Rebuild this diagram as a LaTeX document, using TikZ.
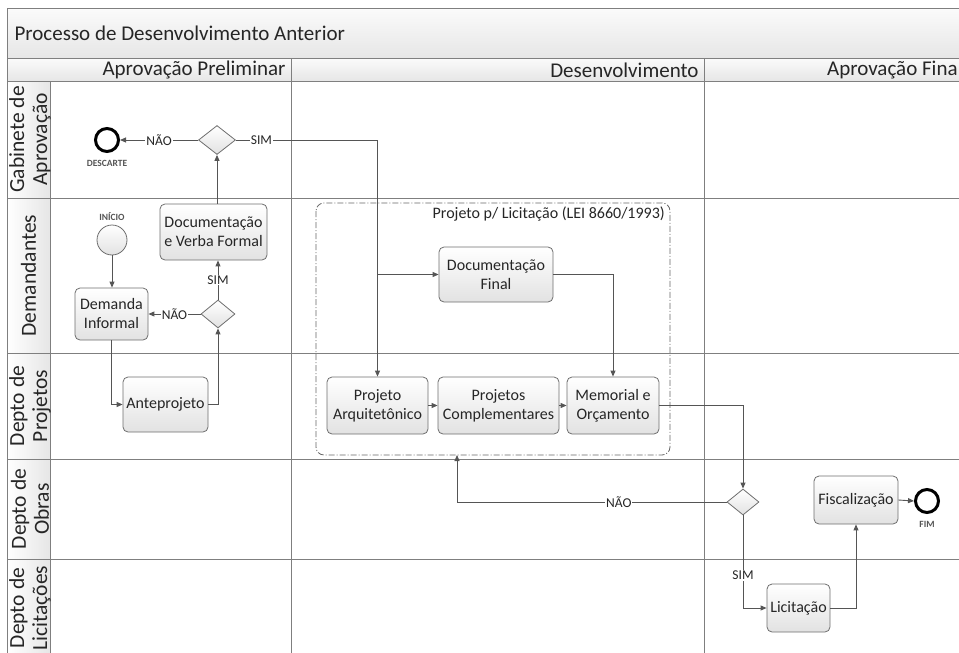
\documentclass[tikz,border=0pt]{standalone}
\usepackage{fontspec}
\setmainfont{Carlito}
\usetikzlibrary{shapes.geometric,arrows.meta,calc,positioning}
\definecolor{laneline}{HTML}{7F7F7F}
\definecolor{flow}{HTML}{555555}
\definecolor{boxline}{HTML}{6E6E6E}
\definecolor{boxfill}{HTML}{E2E2E2}
\definecolor{ink}{HTML}{262626}
\definecolor{bandtop}{HTML}{FBFBFB}
\definecolor{bandbot}{HTML}{E6E6E6}

\begin{document}
\begin{tikzpicture}[x=1pt,y=-1pt,
  task/.style={draw=boxline, line width=0.8pt, rounded corners=5pt,
    top color=white, bottom color=boxfill, text=ink, align=center,
    inner sep=0pt, font=\fontsize{16}{19}\selectfont},
  gate/.style={diamond, draw=boxline, line width=0.8pt, top color=white,
    bottom color=boxfill, inner sep=0pt},
  endev/.style={circle, draw=black, line width=3pt, fill=white, inner sep=0pt,
    minimum size=23pt},
  startev/.style={circle, draw=boxline, line width=0.8pt, top color=white,
    bottom color=boxfill, inner sep=0pt, minimum size=30pt},
  evlabel/.style={font=\fontsize{9.5}{10}\selectfont\bfseries, text=flow},
  flowline/.style={draw=flow, line width=0.9pt},
  arr/.style={flowline, -{Triangle[length=6pt,width=5pt]}},
  lbl/.style={fill=white, text=ink, inner sep=1pt,
    font=\fontsize{13.5}{15}\selectfont},
  lanetitle/.style={rotate=90, text=ink, align=center,
    font=\fontsize{21.5}{23}\selectfont},
  phasetitle/.style={anchor=east, text=ink, font=\fontsize{21}{23}\selectfont},
  laneedge/.style={draw=laneline, line width=0.9pt},
  group/.style={draw=laneline!80!black, line width=0.8pt,
    dash pattern=on 6pt off 2pt on 1pt off 2pt, rounded corners=8pt}
]
\useasboundingbox (0,0) rectangle (959,653);
\clip (0,0) rectangle (959,653);

% pool bands
\shade[top color=bandtop, bottom color=bandbot] (7,8) rectangle (980,58);
\shade[top color=bandtop, bottom color=bandbot] (7,58) rectangle (980,81);
\shade[left color=white, right color=bandbot] (7,81) rectangle (50,680);

% pool frame, lanes and phases
\draw[laneedge] (7,680) -- (7,8) -- (980,8);
\draw[laneedge] (7,58) -- (980,58);
\foreach \yy in {81,198,353,459,559}
  \draw[laneedge] (7,\yy) -- (980,\yy);
\draw[laneedge] (50,81) -- (50,680);
\draw[laneedge] (291,58) -- (291,680);
\draw[laneedge] (704,58) -- (704,680);

% titles
\node[anchor=west, text=ink, font=\fontsize{21}{23}\selectfont] (title) at (11,33)
  {Processo de Desenvolvimento Anterior};
\node[phasetitle] (ph1) at (289,70) {Aprovação Preliminar};
\node[phasetitle] (ph2) at (702,70) {Desenvolvimento};
\node[phasetitle] (ph3) at (966,70) {Aprovação Final};

\node[lanetitle] (l1) at (30,139.5) {Gabinete de\\Aprovação};
\node[lanetitle] (l2) at (28.5,275.5) {Demandantes};
\node[lanetitle] (l3) at (30,406) {Depto de\\Projetos};
\node[lanetitle] (l4) at (30,509) {Depto de\\Obras};
\node[lanetitle] (l5) at (30,608) {Depto de\\Licitações};

% sub-process group
\draw[group] (316,203) rectangle (670,455);
\node[anchor=north east, text=ink, inner sep=0pt, font=\fontsize{16}{19}\selectfont]
  (grouplbl) at (665,207) {Projeto p/ Licitação (LEI 8660/1993)};
\coordinate (groupbot) at (457,455);

% events
\node[endev] (descarte) at (107,140) {};
\node[evlabel, below=4pt of descarte] (descartelbl) {DESCARTE};
\node[startev] (inicio) at (112,240) {};
\node[evlabel, above=1pt of inicio] (iniciolbl) {INÍCIO};
\node[endev] (fim) at (927,501) {};
\node[evlabel, below=4pt of fim] (fimlbl) {FIM};

% gateways
\node[gate, minimum width=37pt, minimum height=29pt] (g1) at (217,140) {};
\node[gate, minimum width=34pt, minimum height=28pt] (g2) at (218,314) {};
\node[gate, minimum width=32pt, minimum height=26pt] (g3) at (743,502) {};

% tasks
\node[task, minimum width=107pt, minimum height=56pt] (docverba) at (213.5,232)
  {Documentação\\e Verba Formal};
\node[task, minimum width=73pt, minimum height=52pt] (demanda) at (111.5,314)
  {Demanda\\Informal};
\node[task, minimum width=85pt, minimum height=55pt] (antep) at (165.5,404.5)
  {Anteprojeto};
\node[task, minimum width=114pt, minimum height=55pt] (docfinal) at (496,274.5)
  {Documentação\\Final};
\node[task, minimum width=101pt, minimum height=57pt] (arq) at (377.5,405.5)
  {Projeto\\Arquitetônico};
\node[task, minimum width=121pt, minimum height=57pt] (compl) at (498.5,405.5)
  {Projetos\\Complementares};
\node[task, minimum width=92pt, minimum height=57pt] (memorial) at (613,405.5)
  {Memorial e\\Orçamento};
\node[task, minimum width=63pt, minimum height=48pt] (licit) at (798.5,608)
  {Licitação};
\node[task, minimum width=84pt, minimum height=48pt] (fiscal) at (856,500)
  {Fiscalização};

% sequence flows
\draw[arr] (g1.west) -- node[lbl]{NÃO} (descarte.east);
\coordinate (split) at (arq.north |- docfinal.west);
\draw[arr] (g1.east) -| node[lbl, pos=0.09]{SIM} (arq.north);
\draw[arr] (split) -- (docfinal.west);
\draw[arr] (g1.south |- docverba.north) -- (g1.south);
\draw[arr] (inicio.south) -- (inicio.south |- demanda.north);
\draw[arr] (g2.west) -- node[lbl]{NÃO} (demanda.east);
\draw[arr] (g2.north) -- node[lbl, pos=0.5]{SIM} (g2.north |- docverba.south);
\draw[arr] (demanda.south) |- (antep.west);
\draw[arr] (antep.east) -| (g2.south);
\draw[arr] (docfinal.east) -| (memorial.north);
\draw[arr] (arq.east) -- (compl.west);
\draw[arr] (compl.east) -- (memorial.west);
\draw[arr] (memorial.east) -| (g3.north);
\draw[arr] (g3.west) -- node[lbl, pos=0.4]{NÃO} (groupbot |- g3.west) -- (groupbot);
\draw[arr] (g3.south) -- node[lbl, pos=0.65]{SIM} (g3.south |- licit.west) -- (licit.west);
\draw[arr] (licit.east) -| (fiscal.south);
\draw[arr] (fiscal.east) -- (fim.west);
\end{tikzpicture}
\end{document}
